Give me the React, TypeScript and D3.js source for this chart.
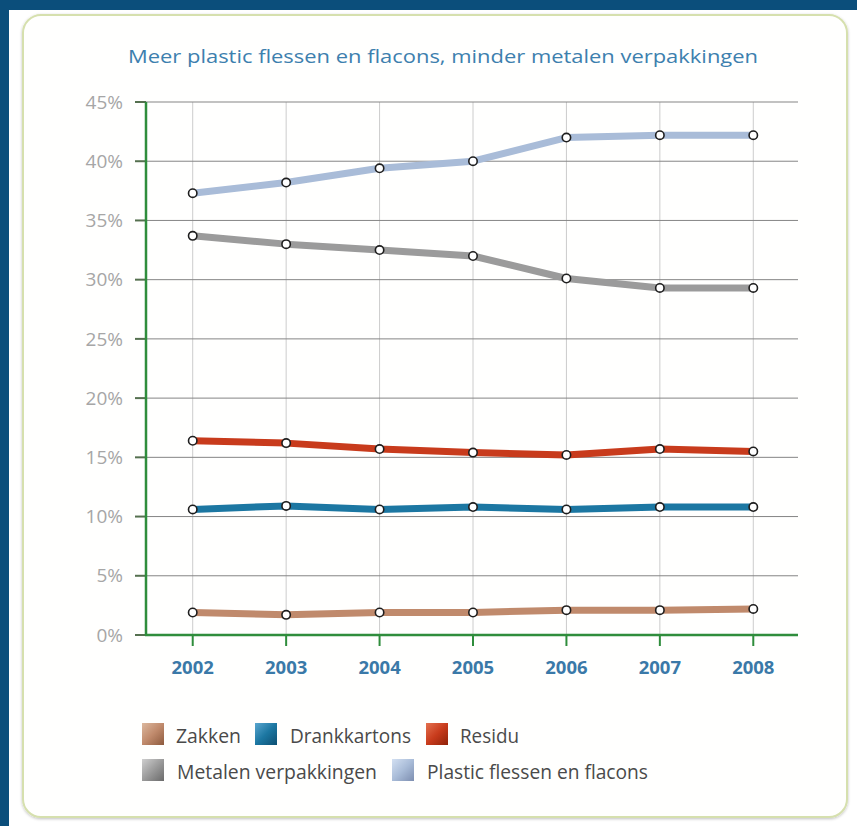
import React from "react";
import * as d3 from "d3";

const years = ["2002", "2003", "2004", "2005", "2006", "2007", "2008"];
const yTicks = [0, 5, 10, 15, 20, 25, 30, 35, 40, 45];

const zakken = [1.9, 1.7, 1.9, 1.9, 2.1, 2.1, 2.2];
const drankkartons = [10.6, 10.9, 10.6, 10.8, 10.6, 10.8, 10.8];
const residu = [16.4, 16.2, 15.7, 15.4, 15.2, 15.7, 15.5];
const metalen = [33.7, 33.0, 32.5, 32.0, 30.1, 29.3, 29.3];
const plastic = [37.3, 38.2, 39.4, 40.0, 42.0, 42.2, 42.2];

const seriesNames = [
  "Zakken",
  "Drankkartons",
  "Residu",
  "Metalen verpakkingen",
  "Plastic flessen en flacons",
];
const seriesValues = [zakken, drankkartons, residu, metalen, plastic];
const seriesColors = ["#c08a6c", "#1c77a2", "#c83b1c", "#9b9b9b", "#a9bcd8"];
const seriesDark = ["#8d5a3e", "#0d4f72", "#8f2208", "#6a6a6a", "#7d8eb0"];
const seriesLight = ["#dcb89e", "#5aa6cf", "#e4714f", "#cfcfcf", "#d3e0f2"];

const title = "Meer plastic flessen en flacons, minder metalen verpakkingen";

const W = 857;
const H = 826;
const margin = { left: 146, right: 800, top: 102, bottom: 635 };

export default function App() {
  const x = d3
    .scalePoint<string>()
    .domain(years)
    .range([margin.left, margin.right])
    .padding(0.5);
  const y = d3.scaleLinear().domain([0, 45]).range([margin.bottom, margin.top]);

  const line = d3
    .line<number>()
    .x((_, i) => x(years[i]) as number)
    .y((d) => y(d));

  const font = "'Open Sans', 'DejaVu Sans', sans-serif";

  // legend layout: [row, squareX, textX, textLength]
  const legendLayout: [number, number, number, number][] = [
    [0, 142, 176, 65],
    [0, 255, 290, 121],
    [0, 426, 460, 59],
    [1, 142, 177, 200],
    [1, 392, 427, 221],
  ];
  const legendRows = [723, 759];

  return (
    <div style={{ position: "fixed", left: 0, top: 0 }}>
      <svg width={W} height={H} style={{ display: "block" }}>
        <defs>
          {seriesColors.map((c, i) => (
            <linearGradient key={i} id={`lg${i}`} x1="0" y1="0" x2="1" y2="1">
              <stop offset="0" stopColor={seriesLight[i]} />
              <stop offset="0.5" stopColor={c} />
              <stop offset="1" stopColor={seriesDark[i]} />
            </linearGradient>
          ))}
          <filter id="cardShadow" x="-5%" y="-5%" width="110%" height="110%">
            <feGaussianBlur in="SourceAlpha" stdDeviation="1.5" />
            <feOffset dx="0" dy="1" />
            <feComponentTransfer>
              <feFuncA type="linear" slope="0.25" />
            </feComponentTransfer>
            <feMerge>
              <feMergeNode />
              <feMergeNode in="SourceGraphic" />
            </feMerge>
          </filter>
        </defs>

        {/* page background */}
        <rect x={0} y={0} width={W} height={H} fill="#ffffff" />
        <rect x={0} y={0} width={W} height={10} fill="#0b4e7b" />
        <rect x={0} y={0} width={9} height={H} fill="#0b4e7b" />

        {/* card */}
        <rect
          x={23}
          y={15}
          width={824}
          height={802}
          rx={18}
          ry={18}
          fill="#fffffe"
          stroke="#d6e0ae"
          strokeWidth={2}
          filter="url(#cardShadow)"
        />

        {/* title */}
        <text
          x={443}
          y={63}
          textAnchor="middle"
          fontFamily={font}
          fontSize={19}
          fill="#3d80ae"
          textLength={630}
          lengthAdjust="spacingAndGlyphs"
        >
          {title}
        </text>

        {/* vertical grid */}
        {years.map((yr) => (
          <line
            key={yr}
            x1={x(yr)}
            x2={x(yr)}
            y1={margin.top}
            y2={margin.bottom}
            stroke="#cccccc"
            strokeWidth={1}
          />
        ))}

        {/* horizontal grid + y ticks + labels */}
        {yTicks.map((t) => (
          <g key={t}>
            {t > 0 && (
              <line
                x1={margin.left}
                x2={margin.right - 2}
                y1={y(t)}
                y2={y(t)}
                stroke="#858585"
                strokeWidth={1}
              />
            )}
            <line
              x1={135}
              x2={margin.left}
              y1={y(t)}
              y2={y(t)}
              stroke="#55704f"
              strokeWidth={2}
            />
            <text
              x={123}
              y={y(t)}
              dy="0.35em"
              textAnchor="end"
              fontFamily={font}
              fontSize={19}
              fill="#a6a6a6"
            >
              {t}%
            </text>
          </g>
        ))}

        {/* axes */}
        <line
          x1={margin.left}
          x2={margin.left}
          y1={margin.top}
          y2={margin.bottom}
          stroke="#2f8d3c"
          strokeWidth={2.5}
        />
        <line
          x1={margin.left - 1}
          x2={margin.right - 2}
          y1={margin.bottom}
          y2={margin.bottom}
          stroke="#2f8d3c"
          strokeWidth={2.5}
        />
        {years.map((yr) => (
          <g key={yr}>
            <line
              x1={x(yr)}
              x2={x(yr)}
              y1={margin.bottom}
              y2={margin.bottom + 11}
              stroke="#2f8d3c"
              strokeWidth={2}
            />
            <text
              x={x(yr)}
              y={674}
              textAnchor="middle"
              fontFamily={font}
              fontWeight={700}
              fontSize={18.5}
              fill="#3a79a8"
            >
              {yr}
            </text>
          </g>
        ))}

        {/* series lines */}
        {seriesValues.map((vals, i) => (
          <path
            key={seriesNames[i]}
            d={line(vals) as string}
            fill="none"
            stroke={seriesColors[i]}
            strokeWidth={7}
            strokeLinejoin="round"
            strokeLinecap="round"
          />
        ))}

        {/* markers */}
        {seriesValues.map((vals, i) => (
          <g key={`m-${seriesNames[i]}`}>
            {vals.map((v, j) => (
              <circle
                key={j}
                cx={x(years[j])}
                cy={y(v)}
                r={4.2}
                fill="#ffffff"
                stroke="#1e1e1e"
                strokeWidth={1.6}
              />
            ))}
          </g>
        ))}

        {/* legend */}
        {legendLayout.map(([row, sx, tx, tl], i) => (
          <g key={`lg-${i}`}>
            <rect
              x={sx}
              y={legendRows[row]}
              width={22}
              height={22}
              fill={`url(#lg${i})`}
            />
            <text
              x={tx}
              y={legendRows[row] + 20}
              fontFamily={font}
              fontSize={20}
              fill="#4a4a4a"
              textLength={tl}
              lengthAdjust="spacingAndGlyphs"
            >
              {seriesNames[i]}
            </text>
          </g>
        ))}
      </svg>
    </div>
  );
}
